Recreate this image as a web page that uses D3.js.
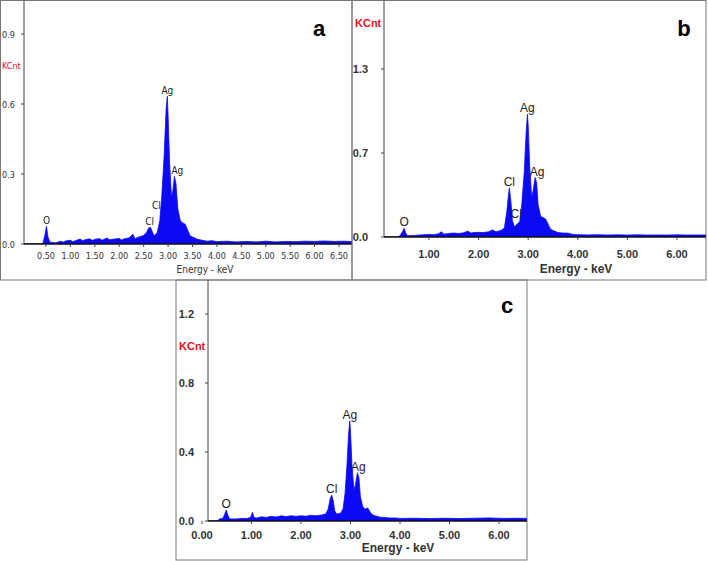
<!DOCTYPE html>
<html><head><meta charset="utf-8">
<script src="https://cdn.jsdelivr.net/npm/d3@7"></script>
<style>body{margin:0;background:#fff}svg{display:block}</style>
</head><body><svg id="chart" width="708" height="561"></svg>
<script>
// --- spectrum samples [keV, KCnt] ---
const spectrumA = [[0.05,0],[0.40,0],[0.44,0.005],[0.48,0.04],[0.51,0.076],[0.54,0.03],[0.58,0.008],[0.7,0.005],[0.8,0.012],[0.85,0.008],
  [0.9,0.013],[1.0,0.016],[1.05,0.01],[1.1,0.014],[1.2,0.021],[1.25,0.014],[1.3,0.018],[1.4,0.022],[1.45,0.015],[1.5,0.02],[1.6,0.023],
  [1.65,0.016],[1.7,0.021],[1.75,0.026],[1.8,0.018],[1.9,0.021],[2.0,0.024],[2.05,0.017],[2.1,0.022],[2.2,0.026],[2.28,0.042],[2.32,0.022],
  [2.4,0.03],[2.5,0.036],[2.56,0.05],[2.6,0.068],[2.64,0.072],[2.68,0.05],[2.72,0.035],[2.78,0.05],[2.83,0.1],[2.87,0.2],[2.92,0.38],
  [2.96,0.58],[2.985,0.633],[3.0,0.55],[3.03,0.35],[3.07,0.2],[3.1,0.23],[3.13,0.29],[3.16,0.26],[3.2,0.15],[3.25,0.1],[3.3,0.09],
  [3.35,0.085],[3.4,0.06],[3.45,0.035],[3.5,0.03],[3.6,0.02],[3.7,0.016],[3.8,0.012],[3.9,0.014],[4.0,0.01],[4.2,0.012],[4.4,0.009],
  [4.6,0.011],[4.8,0.009],[5.0,0.012],[5.2,0.009],[5.4,0.011],[5.6,0.01],[5.8,0.012],[6.0,0.011],[6.2,0.013],[6.4,0.011],[6.6,0.012],[6.8,0.01]];
const spectrumB = [[0.09,0],[0.38,0],[0.42,0.012],[0.47,0.045],[0.5,0.067],[0.53,0.03],[0.57,0.01],[0.7,0.012],[0.8,0.015],[0.9,0.018],
  [1.0,0.02],[1.1,0.017],[1.2,0.026],[1.25,0.04],[1.3,0.022],[1.4,0.028],[1.5,0.03],[1.6,0.027],[1.7,0.033],[1.78,0.045],[1.85,0.03],
  [1.9,0.034],[2.0,0.036],[2.1,0.035],[2.2,0.04],[2.28,0.055],[2.35,0.04],[2.45,0.05],[2.52,0.07],[2.57,0.2],[2.6,0.32],[2.62,0.38],
  [2.65,0.28],[2.68,0.13],[2.72,0.08],[2.78,0.1],[2.83,0.12],[2.87,0.25],[2.92,0.5],[2.96,0.82],[2.985,0.95],[3.0,0.86],[3.03,0.55],
  [3.07,0.3],[3.1,0.36],[3.14,0.46],[3.17,0.42],[3.2,0.25],[3.25,0.16],[3.3,0.15],[3.35,0.14],[3.4,0.1],[3.45,0.06],[3.5,0.05],
  [3.6,0.035],[3.7,0.03],[3.8,0.03],[3.9,0.02],[4.0,0.018],[4.2,0.016],[4.4,0.018],[4.6,0.015],[4.8,0.017],[5.0,0.015],[5.2,0.017],
  [5.4,0.015],[5.6,0.016],[5.8,0.015],[6.0,0.017],[6.2,0.015],[6.4,0.016],[6.6,0.015]];
const spectrumC = [[0.12,0],[0.32,0],[0.35,0.012],[0.42,0.015],[0.46,0.04],[0.49,0.064],[0.52,0.035],[0.56,0.012],[0.7,0.012],[0.8,0.015],
  [0.9,0.014],[0.98,0.02],[1.02,0.05],[1.05,0.02],[1.1,0.017],[1.2,0.024],[1.3,0.021],[1.4,0.027],[1.5,0.023],[1.6,0.03],[1.7,0.026],
  [1.8,0.03],[1.9,0.027],[2.0,0.03],[2.1,0.028],[2.2,0.033],[2.3,0.03],[2.4,0.034],[2.5,0.04],[2.55,0.07],[2.59,0.13],[2.62,0.15],
  [2.65,0.12],[2.68,0.06],[2.72,0.04],[2.8,0.045],[2.85,0.07],[2.89,0.16],[2.93,0.33],[2.96,0.5],[2.985,0.58],[3.0,0.52],[3.03,0.32],
  [3.07,0.18],[3.1,0.21],[3.14,0.28],[3.17,0.25],[3.2,0.14],[3.25,0.08],[3.3,0.07],[3.35,0.075],[3.4,0.05],[3.45,0.035],[3.5,0.03],
  [3.6,0.022],[3.7,0.02],[3.8,0.017],[3.9,0.018],[4.0,0.015],[4.3,0.016],[4.6,0.014],[4.9,0.016],[5.2,0.014],[5.5,0.016],[5.8,0.018],
  [6.1,0.015],[6.4,0.016],[6.6,0.015]];

// --- peak labels [element, keV, KCnt] ---
const labelsA = [["O",0.51,0.076],["Cl",2.62,0.072],["Cl",2.76,0.14],["Ag",2.985,0.633],["Ag",3.19,0.29]];
const labelsB = [["O",0.5,0.067],["Cl",2.62,0.38],["Cl",2.76,0.13],["Ag",2.985,0.95],["Ag",3.18,0.46]];
const labelsC = [["O",0.49,0.064],["Cl",2.62,0.15],["Ag",2.985,0.58],["Ag",3.16,0.28]];

// --- tick values ---
const xTicksA = [0.5,1,1.5,2,2.5,3,3.5,4,4.5,5,5.5,6,6.5];
const yTicksA = [0, 0.3, 0.6, 0.9];
const xTicksB = [1,2,3,4,5,6];
const yTicksB = [0, 0.65, 1.3];
const xTicksC = [0,1,2,3,4,5,6];
const yTicksC = [0, 0.4, 0.8, 1.2];

const svg = d3.select("#chart");
const narrow = "'DejaVu Sans Condensed','Liberation Sans Narrow',sans-serif";
const sans = "'Liberation Sans',Arial,sans-serif";

function drawPanel(p) {
    const g = svg.append("g");
    g.append("rect").attr("x", p.box[0]).attr("y", p.box[1]).attr("width", p.box[2] - p.box[0]).attr("height", p.box[3] - p.box[1])
        .attr("fill", "none").attr("stroke", "#777").attr("stroke-width", 1);

    const x = d3.scaleLinear().domain(p.xDom).range(p.xRange);
    const y = d3.scaleLinear().domain(p.yDom).range(p.yRange);
    const y0 = y(0);

    const clipId = "clip" + p.letter;
    g.append("clipPath").attr("id", clipId).append("rect")
        .attr("x", p.axisX).attr("y", p.box[1]).attr("width", p.box[2] - p.axisX).attr("height", y0 - p.box[1]);

    const area = d3.area().x(d => x(d[0])).y0(y0).y1(d => y(d[1]));
    g.append("path").datum(p.data).attr("clip-path", `url(#${clipId})`)
        .attr("d", area).attr("fill", "#0a0af5").attr("stroke", "#0a0af5").attr("stroke-width", 0.8);

    // axes
    g.append("line").attr("x1", p.axisX).attr("x2", p.axisX).attr("y1", p.box[1]).attr("y2", y0).attr("stroke", "#444");
    g.append("line").attr("x1", p.axisX).attr("x2", p.box[2]).attr("y1", y0).attr("y2", y0).attr("stroke", "#111").attr("stroke-width", 1.5);

    const font = p.bold ? sans : narrow;
    const fw = p.bold ? "bold" : "normal";
    g.selectAll(".xt").data(p.xTicks).enter().append("line")
        .attr("x1", d => x(d)).attr("x2", d => x(d)).attr("y1", y0).attr("y2", y0 + 3).attr("stroke", "#444");
    g.selectAll(".xl").data(p.xTicks).enter().append("text")
        .attr("x", d => x(d)).attr("y", y0 + p.xLabelDy).attr("text-anchor", "middle")
        .attr("font-family", font).attr("font-size", p.fs).attr("font-weight", fw).attr("fill", "#333")
        .text(d => d.toFixed(2));
    g.selectAll(".yt").data(p.yTicks).enter().append("line")
        .attr("x1", p.axisX - 3).attr("x2", p.axisX).attr("y1", d => y(d)).attr("y2", d => y(d)).attr("stroke", "#444");
    g.selectAll(".yl").data(p.yTicks).enter().append("text")
        .attr("x", p.yLabelX).attr("y", d => y(d) + 4).attr("text-anchor", p.yAnchor)
        .attr("font-family", font).attr("font-size", p.fs).attr("font-weight", fw).attr("fill", "#333")
        .text(d => d.toFixed(1));

    g.append("text").attr("x", p.title[0]).attr("y", p.title[1]).attr("text-anchor", "middle")
        .attr("font-family", font).attr("font-size", p.fs + 1).attr("font-weight", fw).attr("fill", "#333").text("Energy - keV");
    g.append("text").attr("x", p.kcnt[0]).attr("y", p.kcnt[1])
        .attr("font-family", font).attr("font-size", p.fs).attr("font-weight", fw).attr("fill", "#e8101a").text("KCnt");
    g.append("text").attr("x", p.tag[0]).attr("y", p.tag[1]).attr("text-anchor", "middle")
        .attr("font-family", sans).attr("font-size", 22).attr("font-weight", "bold").attr("fill", "#000").text(p.letter);

    g.selectAll(".pk").data(p.labels).enter().append("text")
        .attr("x", d => x(d[1])).attr("y", d => y(d[2]) - 2).attr("text-anchor", "middle")
        .attr("font-family", font).attr("font-size", p.fs + 1).attr("fill", "#222").text(d => d[0]);
}

drawPanel({letter: "a", box: [0.5, 0.5, 352, 280], data: spectrumA, labels: labelsA,
    xDom: [0.5, 6.5], xRange: [46, 339], yDom: [0, 0.9], yRange: [244, 34], axisX: 24,
    xTicks: xTicksA, yTicks: yTicksA, xLabelDy: 15, yLabelX: 2, yAnchor: "start", fs: 9, bold: false,
    title: [205, 273], kcnt: [2, 69], tag: [319, 36]});
drawPanel({letter: "b", box: [352, 0.5, 706, 280], data: spectrumB, labels: labelsB,
    xDom: [1, 6], xRange: [429, 677], yDom: [0, 1.3], yRange: [237, 69], axisX: 384,
    xTicks: xTicksB, yTicks: yTicksB, xLabelDy: 21, yLabelX: 368, yAnchor: "end", fs: 11, bold: true,
    title: [576, 273], kcnt: [355, 27], tag: [684, 36]});
drawPanel({letter: "c", box: [176, 280, 527, 560], data: spectrumC, labels: labelsC,
    xDom: [0, 6], xRange: [202, 499], yDom: [0, 1.2], yRange: [521, 314], axisX: 208,
    xTicks: xTicksC, yTicks: yTicksC, xLabelDy: 18, yLabelX: 194, yAnchor: "end", fs: 11, bold: true,
    title: [398, 552], kcnt: [179, 350], tag: [507, 313]});
</script></body></html>
